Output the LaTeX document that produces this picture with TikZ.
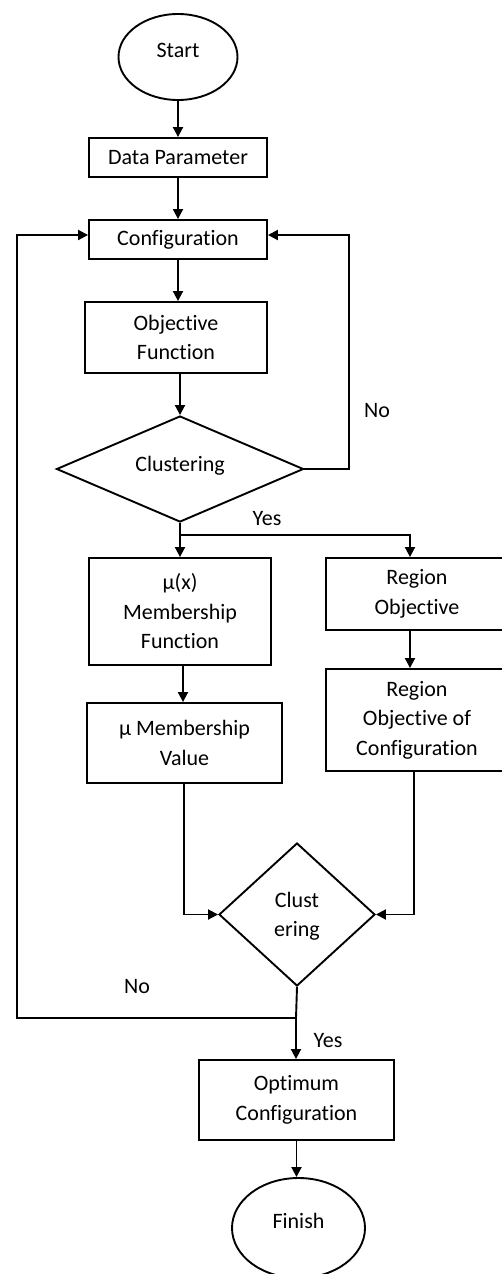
\documentclass[tikz,border=0pt]{standalone}
\usepackage{fontspec}
\setmainfont{Carlito}[Ligatures=NoCommon]
\usetikzlibrary{shapes.geometric,arrows.meta}
\begin{document}
\begin{tikzpicture}[x=1pt,y=-1pt,
  every node/.style={font=\fontsize{22}{29.5}\selectfont},
  box/.style={draw,line width=1.9pt,rectangle,inner sep=0pt,align=center},
  term/.style={draw,line width=1.9pt,ellipse,inner sep=0pt},
  decision/.style={draw,line width=1.9pt,diamond,inner sep=0pt},
  conn/.style={line width=1.9pt},
  arr/.style={line width=1.9pt,-{Triangle[length=10pt,width=10pt]}},
  lbl/.style={anchor=base,inner sep=0pt}
]
\useasboundingbox (0,0) rectangle (502,1274);
\clip (0,0) rectangle (502,1274);

% terminals
\node[term,minimum width=119pt,minimum height=86pt] (start) at (178,57) {};
\node[lbl] (starttxt) at (178,57) {Start};
\node[term,minimum width=133pt,minimum height=100pt] (fin) at (298.5,1228) {};
\node[lbl] (fintxt) at (298.5,1228) {Finish};

% boxes
\node[box,minimum width=178pt,minimum height=39pt] (dp) at (178,157.5) {Data Parameter};
\node[box,minimum width=178pt,minimum height=39pt] (config) at (178,239.5) {Configuration};
\node[box,minimum width=182pt,minimum height=71pt] (obj) at (176,337.5) {Objective\\Function};
\node[box,minimum width=182pt,minimum height=107pt] (mf) at (180,611.5) {µ(x)\\Membership\\Function};
\node[box,minimum width=182pt,minimum height=72pt] (ro) at (417,594) {Region\\Objective};
\node[box,minimum width=182pt,minimum height=102pt] (roc) at (417,720) {Region\\Objective of\\Configuration};
\node[box,minimum width=195pt,minimum height=80pt] (mv) at (184.5,743) {µ Membership\\Value};
\node[box,minimum width=195pt,minimum height=80pt] (opt) at (296.5,1100) {Optimum\\Configuration};

% decisions
\node[decision,minimum width=247pt,minimum height=106pt] (clus) at (180,469) {};
\node (clustxt) at (180,466) {Clustering};
\node[decision,minimum width=156pt,minimum height=143pt] (cl2) at (297,914.5) {};
\node[align=center] (cl2txt) at (297,916) {Clust\\ering};

% labels
\node[lbl] (no1) at (377,417) {No};
\node[lbl] (yes1) at (267,525) {Yes};
\node[lbl] (no2) at (137,993) {No};
\node[lbl] (yes2) at (328,1047) {Yes};

% lane coordinates
\coordinate (lx) at (17,235);
\coordinate (rx) at (349,235);
\coordinate (ys) at (180,535);
\coordinate (rl) at (410,535);
\coordinate (mlane) at (183,700);
\coordinate (mvl) at (184,914.5);
\coordinate (rcl) at (414,914.5);
\coordinate (nj) at (296,1018);

% connectors
\draw[arr] (start) -- (dp);
\draw[arr] (dp) -- (config);
\draw[arr] (config.south) -- (config.south |- obj.north);
\draw[arr] (clus.north |- obj.south) -- (clus.north);
\draw[arr] (clus.east) -| (rx) -- (config.east |- rx);
\draw[conn] (clus.south) -- (ys);
\draw[arr] (ys) -- (mf.north);
\draw[arr] (ys) -- (rl) -- (rl |- ro.north);
\draw[arr] (rl |- ro.south) -- (rl |- roc.north);
\draw[arr] (mlane |- mf.south) -- (mlane |- mv.north);
\draw[arr] (mvl |- mv.south) -- (mvl) -- (cl2.west);
\draw[arr] (rcl |- roc.south) -- (rcl) -- (cl2.east);
\draw[conn] (cl2.south) -- (nj);
\draw[arr] (nj) -- (lx |- nj) -- (lx) -- (config.west |- lx);
\draw[arr] (nj) -- (nj |- opt.north);
\draw[arr] (opt.south) -- (opt.south |- fin.north);
\end{tikzpicture}
\end{document}
